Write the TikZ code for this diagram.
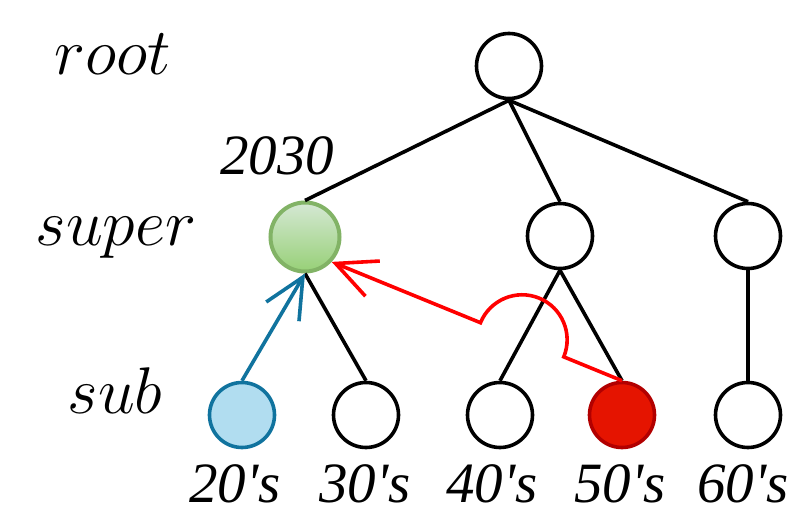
\RequirePackage{fix-cm}
\documentclass[tikz,border=0pt]{standalone}
\usepackage{fontspec}
\newfontfamily\timesit[Ligatures=TeXOff]{Liberation Serif}
\usetikzlibrary{arrows.meta,calc}

\definecolor{greenTop}{HTML}{D5E8D4}
\definecolor{greenBot}{HTML}{97D077}
\definecolor{greenLine}{HTML}{82B366}
\definecolor{blueFill}{HTML}{B1DDF0}
\definecolor{blueLine}{HTML}{10739E}
\definecolor{redFill}{HTML}{E51400}
\definecolor{redLine}{HTML}{B20000}
\definecolor{hopRed}{HTML}{FF0000}

\begin{document}
\begin{tikzpicture}[x=1pt,y=-1pt,
  vertex/.style={circle,draw=black,line width=3.6pt,minimum size=65pt,inner sep=0pt,fill=white},
  picked/.style={vertex,draw=greenLine,line width=4pt,minimum size=69pt,top color=greenTop,bottom color=greenBot},
  source/.style={vertex,draw=blueLine,fill=blueFill},
  moved/.style={vertex,draw=redLine,fill=redFill},
  edge/.style={line width=3.6pt,draw=black},
  barb/.style={line width=3.6pt,-{Straight Barb[length=40pt,width=38pt]}},
  level/.style={font=\fontsize{66}{70}\selectfont,anchor=base,inner sep=0pt},
  year/.style={font=\fontsize{57}{60}\selectfont\timesit\itshape,anchor=base,inner sep=0pt,text depth=0pt},
]
\useasboundingbox (0,0) rectangle (796,508);

% level captions
\node[level] (capRoot)  at (113,75)  {$root$};
\node[level] (capSuper) at (116,245) {$super$};
\node[level] (capSub)   at (115,413) {$sub$};

% tree nodes
\node[vertex] (root) at (509,66) {};
\node[picked] (sA) at (305,237) {};
\node[vertex] (sB) at (560,236) {};
\node[vertex] (sC) at (748,236) {};
\node[source] (l20) at (242,415) {};
\node[vertex] (l30) at (366,415) {};
\node[vertex] (l40) at (500,415) {};
\node[moved]  (l50) at (622,415) {};
\node[vertex] (l60) at (748,415) {};

% node labels
\node[year] (y2030) at (277,175) {2030};
\node[year] (t20) at (235,502) {20's};
\node[year] (t30) at (365,502) {30's};
\node[year] (t40) at (492,502) {40's};
\node[year] (t50) at (620,502) {50's};
\node[year] (t60) at (743,502) {60's};

% tree edges
\draw[edge] (root.south) -- (sA.north);
\draw[edge] (root.south) -- (sB.north);
\draw[edge] (root.south) -- (sC.north);
\draw[edge] (sA.south) -- (l30.north);
\draw[edge] (sB.south) -- (l40.north);
\draw[edge] (sB.south) -- (l50.north);
\draw[edge] (sC.south) -- (l60.north);

% moves into the 2030 super node
\draw[barb,draw=blueLine] (l20.north) -- (sA.south);
\coordinate (gtip) at (sA.-43);
\draw[barb,draw=hopRed,line join=miter]
  (l50.north) -- ($(l50.north)!0.2006!(gtip)$)
  arc[start angle=-22.3, end angle=157.7, radius=45pt] -- (gtip);
\end{tikzpicture}
\end{document}
